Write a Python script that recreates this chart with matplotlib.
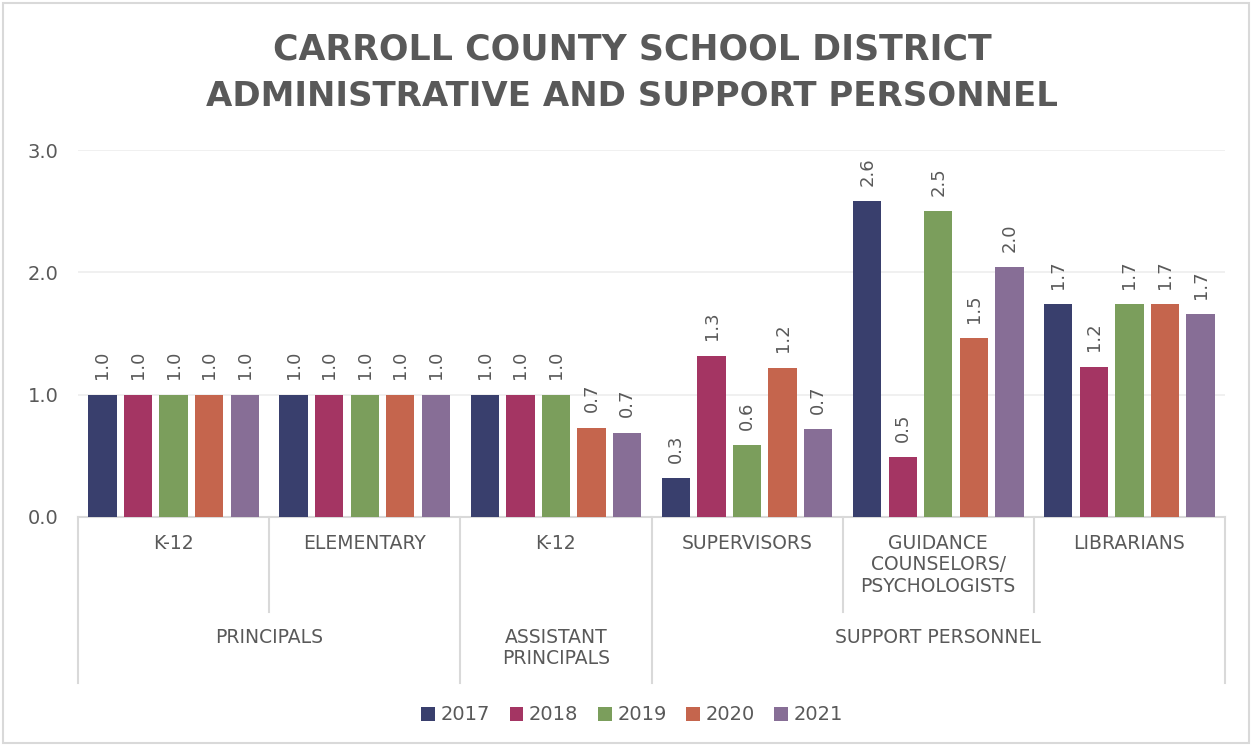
import numpy as np
import matplotlib
matplotlib.use("Agg")
import matplotlib.pyplot as plt
from matplotlib.transforms import blended_transform_factory
from matplotlib.patches import Rectangle, Patch
from matplotlib.lines import Line2D

# -------------------------------
# Data
# -------------------------------
years = ["2017", "2018", "2019", "2020", "2021"]
sub_categories = ["K-12", "ELEMENTARY", "K-12", "SUPERVISORS",
                  "GUIDANCE\nCOUNSELORS/\nPSYCHOLOGISTS", "LIBRARIANS"]
main_categories = ["PRINCIPALS", "ASSISTANT\nPRINCIPALS", "SUPPORT PERSONNEL"]
main_spans = [(0, 2), (2, 3), (3, 6)]

v2017 = [1.00, 1.00, 1.00, 0.32, 2.58, 1.74]
v2018 = [1.00, 1.00, 1.00, 1.32, 0.49, 1.23]
v2019 = [1.00, 1.00, 1.00, 0.59, 2.50, 1.74]
v2020 = [1.00, 1.00, 0.73, 1.22, 1.46, 1.74]
v2021 = [1.00, 1.00, 0.69, 0.72, 2.04, 1.66]
series = [v2017, v2018, v2019, v2020, v2021]

colors = ["#393f6d", "#a43563", "#7b9e5c", "#c5654d", "#876e96"]
text_col = "#595959"
line_col = "#d9d9d9"

plt.rcParams['font.family'] = ['DejaVu Sans']

# -------------------------------
# Figure
# -------------------------------
fig = plt.figure(figsize=(12.52, 7.46), dpi=100)
ax = fig.add_axes([78/1252, 1 - 517/746, (1225 - 78)/1252, (517 - 150)/746])

# outer frame
fig.patches.append(Rectangle((3/1252, 3/746), 1 - 6/1252, 1 - 6/746,
                             transform=fig.transFigure, fill=False,
                             edgecolor=line_col, linewidth=1.5))

x = np.arange(len(sub_categories))
step = 0.186
width = 0.148
for j, (vals, c) in enumerate(zip(series, colors)):
    pos = x + (j - 2) * step
    ax.bar(pos, vals, width=width, color=c, zorder=3, label=years[j])
    for p, v in zip(pos, vals):
        ax.annotate(f"{v:.1f}", (p, v), xytext=(0, 11), textcoords="offset points",
                    rotation=90, ha="center", va="bottom", fontsize=13,
                    color=text_col)

ax.set_xlim(-0.5, len(sub_categories) - 0.5)
ax.set_ylim(0, 3)
ax.set_yticks([0, 1, 2, 3])
ax.set_yticklabels(["0.0", "1.0", "2.0", "3.0"])
ax.tick_params(axis="y", length=0, pad=14, labelsize=14, labelcolor=text_col)
ax.set_xticks([])
ax.grid(axis="y", color="#efefef", linewidth=1.3, zorder=0)
for s in ["top", "right", "left"]:
    ax.spines[s].set_visible(False)
ax.spines["bottom"].set_color(line_col)
ax.spines["bottom"].set_linewidth(1.5)

# -------------------------------
# Two-level category axis
# -------------------------------
trans = blended_transform_factory(ax.transData, fig.transFigure)
y_axis = 1 - 517/746
y_inner = 1 - 612/746
y_outer = 1 - 683/746

outer_bounds = [s[0] - 0.5 for s in main_spans] + [main_spans[-1][1] - 0.5]
for b in np.arange(len(sub_categories) + 1) - 0.5:
    bottom = y_outer if b in outer_bounds else y_inner
    fig.lines.append(Line2D([b, b], [y_axis, bottom], transform=trans,
                            color=line_col, linewidth=1.5))

for i, lab in enumerate(sub_categories):
    fig.text(i, 1 - 534/746, lab, transform=trans, ha="center", va="top",
             fontsize=13.5, color=text_col, linespacing=1.15)

for lab, (a, b) in zip(main_categories, main_spans):
    fig.text((a + b - 1) / 2, 1 - 628/746, lab, transform=trans, ha="center",
             va="top", fontsize=13.5, color=text_col, linespacing=1.15)

# -------------------------------
# Title and legend
# -------------------------------
fig.text(0.505, 1 - 50/746, "CARROLL COUNTY SCHOOL DISTRICT", ha="center",
         va="center", fontsize=25, fontweight="bold", color=text_col)
fig.text(0.505, 1 - 97/746, "ADMINISTRATIVE AND SUPPORT PERSONNEL", ha="center",
         va="center", fontsize=24.5, fontweight="bold", color=text_col)

handles = [Patch(facecolor=c, label=y) for c, y in zip(colors, years)]
fig.legend(handles=handles, loc="center", bbox_to_anchor=(0.505, 1 - 715/746),
           ncol=5, frameon=False, fontsize=14, handlelength=0.7, handleheight=0.7,
           handletextpad=0.3, columnspacing=1.0, labelcolor=text_col)

fig.savefig("out.png", dpi=100)
